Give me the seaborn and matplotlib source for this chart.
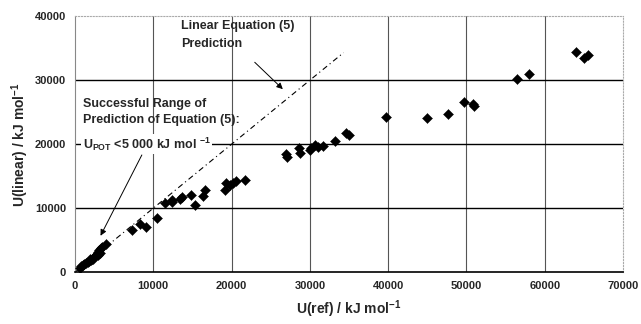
import seaborn as sns
import matplotlib.pyplot as plt
import pandas as pd

# values
u_ref = [600, 800, 1000, 1200, 1400, 1600, 1800, 1900, 2000, 2200, 2300, 2400,
         2600, 2800, 2900, 3000, 3100, 3200, 3300, 3500, 4000,
         7230, 8290, 9060, 10500, 11480, 12330, 12400, 13390, 13730, 14880,
         15310, 16370, 16580, 19130, 19260, 19770, 20190, 20620, 21680,
         27000, 27100, 28570, 28700, 30000, 30190, 30610, 31040, 31680,
         33160, 34650, 34990, 39750, 44980, 47620, 49740, 50810, 51020,
         56420, 58040, 63990, 65050, 65480]
u_linear = [700, 900, 1100, 1300, 1500, 1600, 1800, 2000, 1900, 2100, 2000, 2300,
            2600, 2900, 2700, 3100, 3400, 3000, 3700, 4000, 4400,
            6560, 7500, 6980, 8490, 10730, 11250, 10950, 11510, 11770, 12030,
            10570, 11930, 12810, 12810, 13950, 13590, 13860, 14270, 14480,
            18500, 18000, 19480, 18550, 19060, 19480, 19840, 19580, 19690,
            20470, 21770, 21410, 24270, 24110, 24640, 26610, 26250, 25980,
            30200, 31040, 34420, 33390, 33910]
line_x = [0, 34300]
x_ticks = [0, 10000, 20000, 30000, 40000, 50000, 60000, 70000]
y_ticks = [0, 10000, 20000, 30000, 40000]

sns.set_style("white")
plt.rcParams["font.family"] = ["Liberation Sans", "DejaVu Sans"]
plt.rcParams["font.weight"] = "bold"
plt.rcParams["mathtext.fontset"] = "custom"
plt.rcParams["mathtext.rm"] = "Liberation Sans:bold"
plt.rcParams["mathtext.bf"] = "Liberation Sans:bold"
plt.rcParams["mathtext.default"] = "bf"

df = pd.DataFrame({"ref": u_ref, "linear": u_linear})

fig = plt.figure(figsize=(6.41, 3.24), dpi=100)
ax = fig.add_axes([0.117, 0.16, 0.855, 0.79])

# grid
for v in x_ticks[1:-1]:
    ax.axvline(v, color="#555555", lw=0.8, zorder=0)
for v in y_ticks[1:-1]:
    ax.axhline(v, color="black", lw=1.0, zorder=0)

ax.plot(line_x, line_x, color="black", lw=0.8, ls=(0, (5, 3, 1, 3)), zorder=1)

sns.scatterplot(data=df, x="ref", y="linear", marker="D", s=26, color="black",
                edgecolor="black", linewidth=0.3, ax=ax, zorder=3)

ax.set_xlim(0, 70000)
ax.set_ylim(0, 40000)
ax.set_xticks(x_ticks)
ax.set_yticks(y_ticks)
ax.tick_params(labelsize=8, length=3, width=0.8, direction="out", color="black")
for s in ["top", "right"]:
    ax.spines[s].set_color("#aaaaaa")
    ax.spines[s].set_linestyle(":")
ax.spines["left"].set_color("#888888")
ax.spines["bottom"].set_color("black")
ax.spines["bottom"].set_linewidth(1.2)

ax.set_xlabel("U(ref) / kJ mol$^{-1}$", fontsize=10, fontweight="bold", labelpad=5)
ax.set_ylabel("U(linear) / kJ mol$^{-1}$", fontsize=10, fontweight="bold", labelpad=3)

ax.text(13500, 39400, "Linear Equation (5)\nPrediction", fontsize=9,
        fontweight="bold", va="top", linespacing=1.7)
ax.annotate("", xy=(26800, 28300), xytext=(22700, 33100),
            arrowprops=dict(arrowstyle="-|>", color="black", lw=0.7,
                            mutation_scale=9))

ax.text(1000, 27200, "Successful Range of\nPrediction of Equation (5):",
        fontsize=9, fontweight="bold", va="top", linespacing=1.4)
ax.text(1000, 20000, "U$_{POT}$ <5 000 kJ mol $^{-1}$", fontsize=9,
        fontweight="bold", va="center",
        bbox=dict(facecolor="white", edgecolor="none", pad=1))
ax.annotate("", xy=(3100, 5300), xytext=(8700, 18700),
            arrowprops=dict(arrowstyle="-|>", color="black", lw=0.7,
                            mutation_scale=9))

fig.savefig("out.png", dpi=100)
